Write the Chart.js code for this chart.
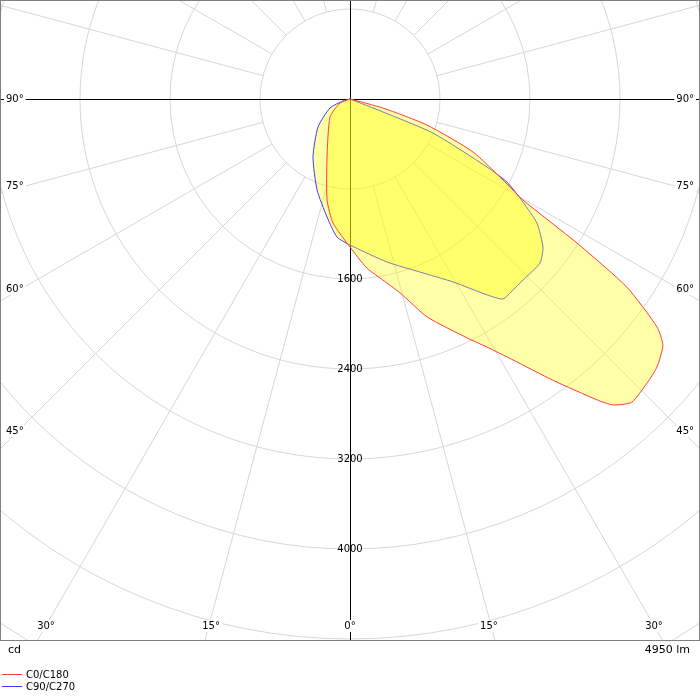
<!DOCTYPE html>
<html>
<head>
<meta charset="utf-8">
<script src="https://cdn.jsdelivr.net/npm/chart.js@4"></script>
<style>body{margin:0;background:#fff}</style>
</head>
<body>
<canvas id="myChart" width="700" height="700"></canvas>
<script>
// angles from nadir in degrees (negative = C180 / C270 side), intensity in cd
var c0Angles = [-90, -68, -48, -21.6, -12.8, -7.8, 0, 5.7, 10.3, 14.5, 19.5, 26.1, 28.9, 32, 35.8, 39.4, 40.7, 42.9, 46.3, 48.9, 51.8, 53.4, 55.8, 57.6, 59.7, 62.1, 66.7, 71.3, 74.7, 90]
var c0Values = [0, 96, 239, 555, 921, 1113, 1316, 1510, 1636, 1781, 2055, 2365, 2518, 2735, 3082, 3461, 3587, 3679, 3653, 3622, 3539, 3399, 2976, 2390, 1781, 1539, 1190, 723, 304, 0]
var c90Angles = [-90, -74, -65.8, -48.8, -32.5, -19.9, -11, -5.4, 0, 12.8, 22, 29.4, 35, 37.4, 40.5, 43.7, 49.2, 52.5, 56.4, 59.2, 62.1, 63.6, 67.7, 68.5, 90]
var c90Values = [0, 65, 195, 378, 612, 860, 1069, 1232, 1298, 1486, 1659, 1867, 2126, 2238, 2232, 2226, 2231, 2162, 1995, 1790, 1579, 1359, 797, 315, 0]
var ringValues = [800, 1600, 2400, 3200, 4000, 4800, 5600, 6400]
var ringLabels = [1600, 2400, 3200, 4000]
var angleLabels = [90, 75, 60, 45, 30, 15, 0]
var seriesNames = ['C0/C180', 'C90/C270']
var fluxText = '4950 lm'
var unitText = 'cd'

var PX = 0.1125 // px per cd
var CX = 350, CY = 99

function toXY(angles, values) {
    var pts = []
    for (var i = 0; i < angles.length; i++) {
        var a = angles[i] * Math.PI / 180
        pts.push({x: values[i] * Math.sin(a), y: values[i] * Math.cos(a)})
    }
    return pts
}

var gridPlugin = {
    id: 'polarGrid',
    beforeDatasetsDraw: function(chart) {
        var ctx = chart.ctx, xs = chart.scales.x, ys = chart.scales.y, area = chart.chartArea
        var cx = xs.getPixelForValue(0), cy = ys.getPixelForValue(0)
        var k = Math.abs(xs.getPixelForValue(1000) - cx) / 1000
        ctx.save()
        ctx.beginPath(); ctx.rect(area.left, area.top, area.right - area.left, area.bottom - area.top); ctx.clip()
        ctx.strokeStyle = '#d6d6d6'; ctx.lineWidth = 1
        ringValues.forEach(function(v) {
            ctx.beginPath(); ctx.arc(cx, cy, v * k, 0, Math.PI * 2); ctx.stroke()
        })
        for (var d = 0; d < 360; d += 15) {
            if (d % 90 == 0) continue
            var a = d * Math.PI / 180
            ctx.beginPath()
            ctx.moveTo(cx + Math.sin(a) * 800 * k, cy + Math.cos(a) * 800 * k)
            ctx.lineTo(cx + Math.sin(a) * 9000 * k, cy + Math.cos(a) * 9000 * k)
            ctx.stroke()
        }
        ctx.strokeStyle = '#000'
        ctx.beginPath(); ctx.moveTo(area.left, cy + 0.5); ctx.lineTo(area.right, cy + 0.5)
        ctx.moveTo(cx + 0.5, area.top); ctx.lineTo(cx + 0.5, area.bottom); ctx.stroke()
        ctx.restore()
    },
    afterDatasetsDraw: function(chart) {
        var ctx = chart.ctx, xs = chart.scales.x, ys = chart.scales.y, area = chart.chartArea
        var cx = xs.getPixelForValue(0), cy = ys.getPixelForValue(0)
        ctx.save()
        ctx.font = '10px "DejaVu Sans"'
        ctx.textBaseline = 'middle'
        ctx.fillStyle = '#000'
        ctx.textAlign = 'center'
        ringLabels.forEach(function(v) {
            ctx.fillText(String(v), cx, ys.getPixelForValue(v))
        })
        angleLabels.forEach(function(d) {
            var t = d + '°'
            var w = ctx.measureText(t).width + 4
            var a = d * Math.PI / 180
            var side = Math.tan(a) * (area.bottom - cy)
            if (side > cx - 30 || d == 90) {
                // on left/right edges
                var y = cy + (d == 90 ? 0 : cx / Math.tan(a) - 6 - (75 - d) * 0.4)
                ctx.fillStyle = '#fff'
                ctx.fillRect(area.left + 4, y - 6, w, 12)
                ctx.fillRect(area.right - 4 - w, y - 6, w, 12)
                ctx.fillStyle = '#000'
                ctx.textAlign = 'left'; ctx.fillText(t, area.left + 6, y)
                ctx.textAlign = 'right'; ctx.fillText(t, area.right - 6, y)
            } else {
                var y = area.bottom - 14
                var lx = Math.max(cx - side + 6, 46), rx = Math.min(cx + side - 6, 654)
                if (d == 0) { lx = cx; rx = cx }
                ctx.textAlign = 'center'
                ;[lx, rx].forEach(function(x) {
                    ctx.fillStyle = '#fff'; ctx.fillRect(x - w / 2, y - 6, w, 12)
                    ctx.fillStyle = '#000'; ctx.fillText(t, x, y)
                })
            }
        })
        ctx.strokeStyle = '#808080'; ctx.lineWidth = 1
        ctx.strokeRect(area.left + 0.5, area.top + 0.5, area.right - area.left - 1, area.bottom - area.top)
        // footer
        ctx.fillStyle = '#000'; ctx.font = '11px "DejaVu Sans"'
        ctx.textAlign = 'left'; ctx.fillText(unitText, 8, area.bottom + 10)
        ctx.textAlign = 'right'; ctx.fillText(fluxText, 690, area.bottom + 10)
        ctx.font = '10px "DejaVu Sans"'; ctx.textAlign = 'left'
        chart.data.datasets.forEach(function(ds, i) {
            var y = area.bottom + 34 + i * 12
            ctx.strokeStyle = ds.borderColor
            ctx.beginPath(); ctx.moveTo(2, y + 0.5); ctx.lineTo(22, y + 0.5); ctx.stroke()
            ctx.fillStyle = '#000'; ctx.fillText(ds.label, 26, y + 1)
        })
        ctx.restore()
    }
}

new Chart(document.getElementById('myChart'), {
    type: 'scatter',
    data: {
        datasets: [{
            label: seriesNames[0],
            data: toXY(c0Angles, c0Values),
            showLine: true, fill: 'shape', tension: 0.2,
            borderColor: '#ff3b3b', backgroundColor: 'rgba(255,255,0,0.34)',
            borderWidth: 1, pointRadius: 0
        }, {
            label: seriesNames[1],
            data: toXY(c90Angles, c90Values),
            showLine: true, fill: 'shape', tension: 0.2,
            borderColor: '#3b3bff', backgroundColor: 'rgba(255,255,0,0.36)',
            borderWidth: 1, pointRadius: 0
        }]
    },
    options: {
        responsive: false, animation: false,
        layout: {padding: {left: 0, right: 0, top: 0, bottom: 60}},
        scales: {
            x: {display: false, min: -CX / PX, max: (700 - CX) / PX},
            y: {display: false, reverse: true, min: -CY / PX, max: (640 - CY) / PX}
        },
        plugins: {legend: {display: false}, tooltip: {enabled: false}}
    },
    plugins: [gridPlugin]
})
</script>
</body>
</html>
